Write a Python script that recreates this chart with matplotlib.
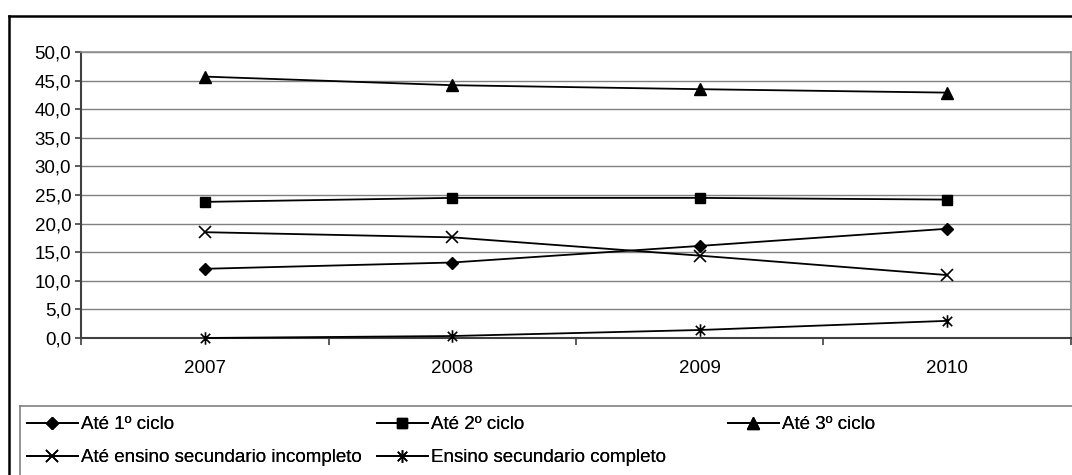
import matplotlib
matplotlib.use('Agg')
import matplotlib.pyplot as plt
import matplotlib.ticker as tkr
from matplotlib.lines import Line2D
from matplotlib.path import Path

# DATA

years = ['2007', '2008', '2009', '2010']
ate_1_ciclo = [12.1, 13.2, 16.1, 19.1]
ate_2_ciclo = [23.8, 24.5, 24.5, 24.2]
ate_3_ciclo = [45.7, 44.2, 43.5, 42.9]
ate_sec_incompleto = [18.5, 17.6, 14.4, 11.0]
sec_completo = [0.0, 0.35, 1.4, 3.0]

labels = ['Até 1º ciclo', 'Até 2º ciclo', 'Até 3º ciclo',
          'Até ensino secundario incompleto', 'Ensino secundario completo']

# asterisk: vertical bar plus two diagonals
star = Path([(0, -1), (0, 1), (-0.75, -0.75), (0.75, 0.75),
             (-0.75, 0.75), (0.75, -0.75)],
            [Path.MOVETO, Path.LINETO] * 3)

styles = [dict(marker='D', markersize=6.5),
          dict(marker='s', markersize=7),
          dict(marker='^', markersize=8),
          dict(marker='x', markersize=8, markeredgewidth=1.2),
          dict(marker=star, markersize=9, markeredgewidth=1.2)]

plt.rcParams['font.family'] = ['Liberation Sans', 'DejaVu Sans']
plt.rcParams['font.size'] = 13.5

# PLOT

fig = plt.figure(figsize=(10.72, 4.75), dpi=100)
ax = fig.add_axes([0.0756, 0.2884, 0.9234, 0.6021])

x = range(len(years))
series = [ate_1_ciclo, ate_2_ciclo, ate_3_ciclo, ate_sec_incompleto,
          sec_completo]
handles = []
for values, label, style in zip(series, labels, styles):
    line, = ax.plot(x, values, color='black', linewidth=1.3,
                    markerfacecolor='black', markeredgecolor='black',
                    label=label, clip_on=False, zorder=3, **style)
    handles.append(line)

ax.set_xlim(-0.5, len(years) - 0.5)
ax.set_ylim(0, 50)
ax.set_yticks([v * 5.0 for v in range(11)])
ax.yaxis.set_major_formatter(
    tkr.FuncFormatter(lambda v, pos: '{:.1f}'.format(v).replace('.', ',')))
ax.set_xticks(list(x))
ax.set_xticklabels(years)
ax.set_xticks([i - 0.5 for i in range(len(years) + 1)], minor=True)
ax.tick_params(axis='x', which='major', length=0, pad=16)
ax.tick_params(axis='x', which='minor', length=5, width=1.2,
               direction='out', color='#404040')
ax.tick_params(axis='y', length=4, width=1.2, direction='out',
               color='#404040', pad=3)

ax.yaxis.grid(True, color='#808080', linewidth=1)
ax.set_axisbelow(True)
for side in ['top', 'right']:
    ax.spines[side].set_color('#909090')
    ax.spines[side].set_linewidth(1.2)
for side in ['left', 'bottom']:
    ax.spines[side].set_color('#404040')
    ax.spines[side].set_linewidth(1.5)

# outer chart frame (left and top edges are the visible ones)
fig.add_artist(Line2D([9 / 1072, 9 / 1072], [0, 1 - 16 / 475],
                      transform=fig.transFigure, color='black', linewidth=1.8))
fig.add_artist(Line2D([9 / 1072, 1], [1 - 16 / 475, 1 - 16 / 475],
                      transform=fig.transFigure, color='black', linewidth=1.8))

# legend box
fig.add_artist(Line2D([20 / 1072, 20 / 1072], [0, 1 - 406 / 475],
                      transform=fig.transFigure, color='#808080', linewidth=1.2))
fig.add_artist(Line2D([20 / 1072, 1], [1 - 406 / 475, 1 - 406 / 475],
                      transform=fig.transFigure, color='#808080', linewidth=1.2))

# legend laid out in fixed-width columns, filled row by row
columns = [[handles[0], handles[3]], [handles[1], handles[4]], [handles[2]]]
col_x = [27, 377, 728]
for hdls, cx in zip(columns, col_x):
    lg = fig.legend(handles=hdls, loc='upper left', frameon=False,
                    bbox_to_anchor=(cx / 1072, 1 - 416 / 475),
                    borderaxespad=0, borderpad=0, handlelength=2.7,
                    handletextpad=0.2, labelspacing=0.85, fontsize=13.5)
    fig.add_artist(lg)

fig.savefig('out.png', dpi=100)
